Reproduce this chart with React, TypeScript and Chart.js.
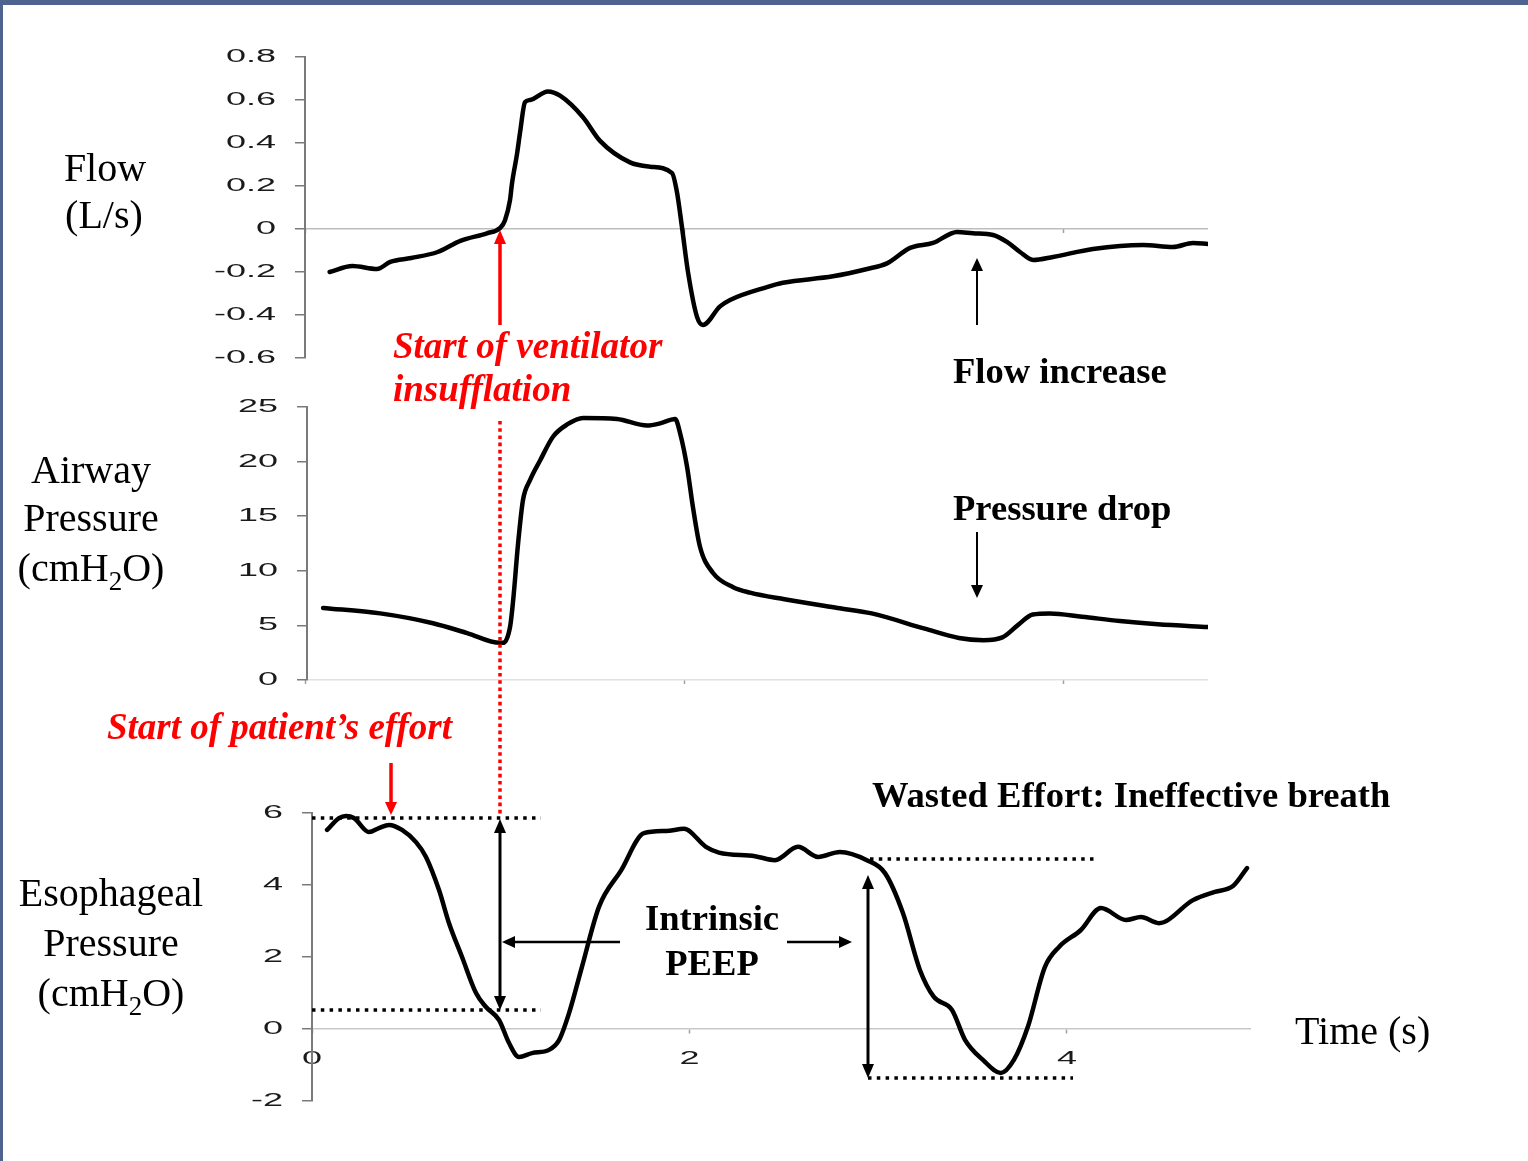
import React, { useEffect, useRef } from "react";
import { Chart, registerables } from "chart.js";

Chart.register(...registerables);

// ---------------- DATA ----------------
// Flow (L/s) vs time (s)
const flowTime = [0.13, 0.25, 0.38, 0.45, 0.56, 0.7, 0.82, 0.96, 1.03, 1.055, 1.082, 1.092, 1.119, 1.135, 1.161, 1.187, 1.282, 1.346, 1.467, 1.557, 1.715, 1.821, 1.937, 1.963, 1.989, 2.021, 2.069, 2.1, 2.19, 2.243, 2.438, 2.522, 2.786, 2.966, 3.071, 3.193, 3.314, 3.441, 3.525, 3.631, 3.704, 3.773, 3.842, 3.947, 4.158, 4.422, 4.58, 4.686, 4.765];
const flowValues = [-0.2, -0.172, -0.186, -0.153, -0.135, -0.107, -0.055, -0.02, 0.005, 0.04, 0.135, 0.21, 0.35, 0.45, 0.59, 0.6, 0.64, 0.62, 0.52, 0.41, 0.31, 0.29, 0.26, 0.17, 0.01, -0.2, -0.41, -0.446, -0.36, -0.33, -0.27, -0.25, -0.22, -0.186, -0.16, -0.088, -0.065, -0.014, -0.02, -0.028, -0.06, -0.107, -0.144, -0.13, -0.093, -0.074, -0.084, -0.065, -0.07];

// Airway pressure (cmH2O) vs time (s)
const airwayTime = [0.095, 0.396, 0.675, 0.855, 1.029, 1.045, 1.082, 1.098, 1.124, 1.15, 1.187, 1.24, 1.309, 1.383, 1.467, 1.646, 1.805, 1.873, 1.953, 1.979, 2.016, 2.047, 2.084, 2.153, 2.259, 2.348, 2.53, 2.81, 2.99, 3.27, 3.45, 3.58, 3.68, 3.76, 3.84, 3.93, 4.1, 4.3, 4.5, 4.765];
const airwayValues = [6.6, 6.1, 5.2, 4.3, 3.4, 3.4, 4.9, 7.3, 12.5, 16.5, 18.3, 20.1, 22.3, 23.4, 24.0, 23.9, 23.3, 23.5, 23.9, 22.6, 19.5, 15.8, 12.2, 9.8, 8.5, 8.0, 7.4, 6.6, 6.1, 4.7, 3.85, 3.65, 3.9, 5.0, 6.0, 6.1, 5.8, 5.4, 5.1, 4.85];

// Esophageal pressure (cmH2O) vs time (s)
const esoTime = [0.08, 0.143, 0.18, 0.222, 0.302, 0.355, 0.408, 0.477, 0.551, 0.604, 0.673, 0.726, 0.795, 0.869, 0.922, 0.991, 1.044, 1.097, 1.166, 1.256, 1.309, 1.362, 1.43, 1.521, 1.637, 1.759, 1.876, 1.971, 2.087, 2.156, 2.347, 2.453, 2.575, 2.681, 2.797, 2.94, 3.036, 3.131, 3.221, 3.295, 3.391, 3.46, 3.555, 3.65, 3.719, 3.793, 3.883, 3.958, 4.074, 4.18, 4.313, 4.392, 4.487, 4.668, 4.784, 4.88, 4.954];
const esoValues = [5.53, 5.86, 5.92, 5.86, 5.47, 5.58, 5.67, 5.53, 5.19, 4.78, 3.86, 2.94, 2.0, 1.0, 0.61, 0.25, -0.39, -0.78, -0.67, -0.58, -0.31, 0.44, 1.72, 3.4, 4.4, 5.44, 5.5, 5.56, 5.06, 4.9, 4.8, 4.69, 5.06, 4.78, 4.92, 4.69, 4.33, 3.22, 1.64, 0.89, 0.53, -0.3, -0.86, -1.22, -0.86, 0.06, 1.72, 2.28, 2.75, 3.36, 3.03, 3.11, 2.94, 3.58, 3.81, 3.97, 4.47];

// Tick labels
const flowTicks = [-0.6, -0.4, -0.2, 0, 0.2, 0.4, 0.6, 0.8];
const airwayTicks = [0, 5, 10, 15, 20, 25];
const esoTicks = [-2, 0, 2, 4, 6];
const timeTicks = [0, 2, 4];

// ---------------- CHART HELPERS ----------------
const W = 1528;
const H = 1161;
const TICK_STRETCH = 2.0;
const TICK_FONT = { family: "'Liberation Sans', Arial, sans-serif", size: 18 };

const stretchPlugin = {
  id: "stretchTicks",
  beforeInit(chart: any) {
    const ctx = chart.ctx;
    const orig = ctx.fillText.bind(ctx);
    ctx.fillText = (text: string, x: number, y: number) => {
      ctx.save();
      ctx.translate(x, y);
      ctx.scale(TICK_STRETCH, 1);
      orig(text, 0, 0);
      ctx.restore();
    };
  },
};

type PanelCfg = {
  times: number[];
  values: number[];
  yTicks: number[];
  yMin: number;
  yMax: number;
  xMin: number;
  xMax: number;
  area: { left: number; top: number; right: number; bottom: number };
  fmt: (v: number) => string;
  zeroLine: string;
  showTimeLabels: boolean;
};

function buildConfig(p: PanelCfg): any {
  return {
    type: "line",
    data: {
      datasets: [
        {
          data: p.times.map((t, i) => ({ x: t, y: p.values[i] })),
          borderColor: "#000",
          borderWidth: 4.5,
          pointRadius: 0,
          fill: false,
          cubicInterpolationMode: "monotone",
          borderJoinStyle: "round",
          borderCapStyle: "round",
        },
      ],
    },
    options: {
      responsive: false,
      animation: false,
      devicePixelRatio: 1,
      events: [],
      layout: {
        padding: {
          left: 0,
          top: p.area.top,
          right: W - p.area.right,
          bottom: H - p.area.bottom,
        },
      },
      plugins: { legend: { display: false }, tooltip: { enabled: false } },
      scales: {
        x: {
          type: "linear",
          min: p.xMin,
          max: p.xMax,
          position: { y: 0 },
          afterBuildTicks: (s: any) => {
            s.ticks = timeTicks.map((v) => ({ value: v }));
          },
          ticks: {
            display: p.showTimeLabels,
            font: TICK_FONT,
            color: "#1a1a1a",
            padding: 15,
            maxRotation: 0,
            autoSkip: false,
            callback: (v: any) => String(v),
          },
          grid: {
            drawOnChartArea: false,
            drawTicks: true,
            tickLength: 4,
            tickColor: "#a0a0a0",
            tickWidth: 1.5,
          },
          border: {
            display: p.showTimeLabels,
            color: "#c8c8c8",
            width: 1.5,
          },
        },
        y: {
          type: "linear",
          min: p.yMin,
          max: p.yMax,
          afterFit: (s: any) => {
            s.width = p.area.left;
          },
          afterBuildTicks: (s: any) => {
            s.ticks = p.yTicks.map((v) => ({ value: v }));
          },
          ticks: {
            font: TICK_FONT,
            color: "#1a1a1a",
            padding: 19,
            autoSkip: false,
            callback: (v: any) => p.fmt(Number(v)),
          },
          grid: {
            color: (c: any) =>
              c.tick && c.tick.value === 0 ? p.zeroLine : "rgba(0,0,0,0)",
            lineWidth: 1.5,
            drawTicks: true,
            tickLength: 10,
            tickColor: "#7a7a7a",
            tickWidth: 1.5,
          },
          border: { display: true, color: "#7a7a7a", width: 2 },
        },
      },
    },
    plugins: [stretchPlugin],
  };
}

const panels: PanelCfg[] = [
  {
    times: flowTime,
    values: flowValues,
    yTicks: flowTicks,
    yMin: -0.6,
    yMax: 0.8,
    xMin: 0,
    xMax: 4.765,
    area: { left: 305, top: 57, right: 1208, bottom: 358 },
    fmt: (v) => (Math.abs(v) < 1e-9 ? "0" : v.toFixed(1)),
    zeroLine: "#bdbdbd",
    showTimeLabels: false,
  },
  {
    times: airwayTime,
    values: airwayValues,
    yTicks: airwayTicks,
    yMin: 0,
    yMax: 25,
    xMin: 0.01,
    xMax: 4.765,
    area: { left: 307, top: 407, right: 1208, bottom: 680 },
    fmt: (v) => String(Math.round(v)),
    zeroLine: "#e0e0e0",
    showTimeLabels: false,
  },
  {
    times: esoTime,
    values: esoValues,
    yTicks: esoTicks,
    yMin: -2,
    yMax: 6,
    xMin: 0,
    xMax: 4.97,
    area: { left: 312, top: 813, right: 1250, bottom: 1101 },
    fmt: (v) => String(Math.round(v)),
    zeroLine: "rgba(0,0,0,0)",
    showTimeLabels: true,
  },
];

function PanelCanvas({ cfg }: { cfg: PanelCfg }) {
  const ref = useRef<HTMLCanvasElement | null>(null);
  useEffect(() => {
    if (!ref.current) return;
    const chart = new Chart(ref.current, buildConfig(cfg));
    return () => chart.destroy();
  }, [cfg]);
  return (
    <canvas
      ref={ref}
      width={W}
      height={H}
      style={{ position: "absolute", left: 0, top: 0, width: W, height: H }}
    />
  );
}

// ---------------- ANNOTATION HELPERS ----------------
function arrowHead(
  x: number,
  y: number,
  dx: number,
  dy: number,
  len: number,
  half: number,
  color: string,
  key: string
) {
  const bx = x - dx * len;
  const by = y - dy * len;
  const px = -dy * half;
  const py = dx * half;
  return (
    <polygon
      key={key}
      points={`${x},${y} ${bx + px},${by + py} ${bx - px},${by - py}`}
      fill={color}
    />
  );
}

function Arrow({
  x1,
  y1,
  x2,
  y2,
  color = "#000",
  width = 3,
  len = 13,
  half = 6,
  both = false,
}: {
  x1: number;
  y1: number;
  x2: number;
  y2: number;
  color?: string;
  width?: number;
  len?: number;
  half?: number;
  both?: boolean;
}) {
  const L = Math.hypot(x2 - x1, y2 - y1);
  const dx = (x2 - x1) / L;
  const dy = (y2 - y1) / L;
  const sx = both ? x1 + dx * (len - 1) : x1;
  const sy = both ? y1 + dy * (len - 1) : y1;
  const ex = x2 - dx * (len - 1);
  const ey = y2 - dy * (len - 1);
  return (
    <g>
      <line x1={sx} y1={sy} x2={ex} y2={ey} stroke={color} strokeWidth={width} />
      {arrowHead(x2, y2, dx, dy, len, half, color, "e")}
      {both ? arrowHead(x1, y1, -dx, -dy, len, half, color, "s") : null}
    </g>
  );
}

const RED = "#ff0000";
const SERIF = "'Liberation Serif', 'Times New Roman', serif";

export default function App() {
  return (
    <div
      style={{
        position: "absolute",
        left: 0,
        top: 0,
        width: W,
        height: H,
        background: "#fff",
        overflow: "hidden",
      }}
    >
      {panels.map((p, i) => (
        <PanelCanvas key={i} cfg={p} />
      ))}
      <div style={{ position: "absolute", left: 0, top: 0, width: W, height: 5, background: "#4e6390" }} />
      <div style={{ position: "absolute", left: 0, top: 0, width: 3, height: H, background: "#4e6390" }} />
      <svg
        width={W}
        height={H}
        style={{ position: "absolute", left: 0, top: 0, pointerEvents: "none" }}
      >
        {/* axis titles */}
        <g fontFamily={SERIF} fontSize={40} fill="#000" textAnchor="middle">
          <text x={105} y={181}>Flow</text>
          <text x={104} y={228}>(L/s)</text>
          <text x={91} y={483}>Airway</text>
          <text x={91} y={531}>Pressure</text>
          <text x={91} y={581}>
            (cmH<tspan fontSize={27} dy={9}>2</tspan>
            <tspan dy={-9}>O)</tspan>
          </text>
          <text x={111} y={906}>Esophageal</text>
          <text x={111} y={956}>Pressure</text>
          <text x={111} y={1006}>
            (cmH<tspan fontSize={27} dy={9}>2</tspan>
            <tspan dy={-9}>O)</tspan>
          </text>
        </g>
        <text x={1295} y={1044} fontFamily={SERIF} fontSize={40} fill="#000">
          Time (s)
        </text>

        {/* red annotations */}
        <g fontFamily={SERIF} fontSize={37} fontWeight="bold" fontStyle="italic" fill={RED}>
          <text x={393} y={358}>Start of ventilator</text>
          <text x={393} y={401}>insufflation</text>
          <text x={107} y={739}>Start of patient’s effort</text>
        </g>

        {/* black bold annotations */}
        <g fontFamily={SERIF} fontSize={36.6} fontWeight="bold" fill="#000">
          <text x={953} y={383}>Flow increase</text>
          <text x={953} y={520}>Pressure drop</text>
          <text x={872} y={807}>Wasted Effort: Ineffective breath</text>
          <text x={712} y={930} textAnchor="middle">Intrinsic</text>
          <text x={712} y={975} textAnchor="middle">PEEP</text>
        </g>

        {/* red dotted insufflation marker */}
        <line x1={500} y1={421} x2={500} y2={817} stroke={RED} strokeWidth={3.5} strokeDasharray="3.6 3.6" />
        <Arrow x1={500} y1={325} x2={500} y2={230} color={RED} width={3.5} len={14} half={6} />
        <Arrow x1={391} y1={763} x2={391} y2={815} color={RED} width={3.5} len={13} half={6} />

        {/* black dotted reference levels */}
        <g stroke="#000" strokeWidth={3.5} strokeDasharray="3.5 5.3">
          <line x1={312} y1={818} x2={541} y2={818} />
          <line x1={312} y1={1010} x2={541} y2={1010} />
          <line x1={870} y1={859} x2={1096} y2={859} />
          <line x1={868} y1={1078} x2={1073} y2={1078} />
        </g>

        {/* black arrows */}
        <Arrow x1={500} y1={819} x2={500} y2={1010} both width={3} len={14} half={6} />
        <Arrow x1={868} y1={875} x2={868} y2={1078} both width={3} len={14} half={6} />
        <Arrow x1={620} y1={942} x2={502} y2={942} width={2.5} len={13} half={6} />
        <Arrow x1={787} y1={942} x2={852} y2={942} width={2.5} len={13} half={6} />
        <Arrow x1={977} y1={325} x2={977} y2={258} width={2} len={13} half={6} />
        <Arrow x1={977} y1={532} x2={977} y2={598} width={2} len={13} half={6} />
      </svg>
    </div>
  );
}
